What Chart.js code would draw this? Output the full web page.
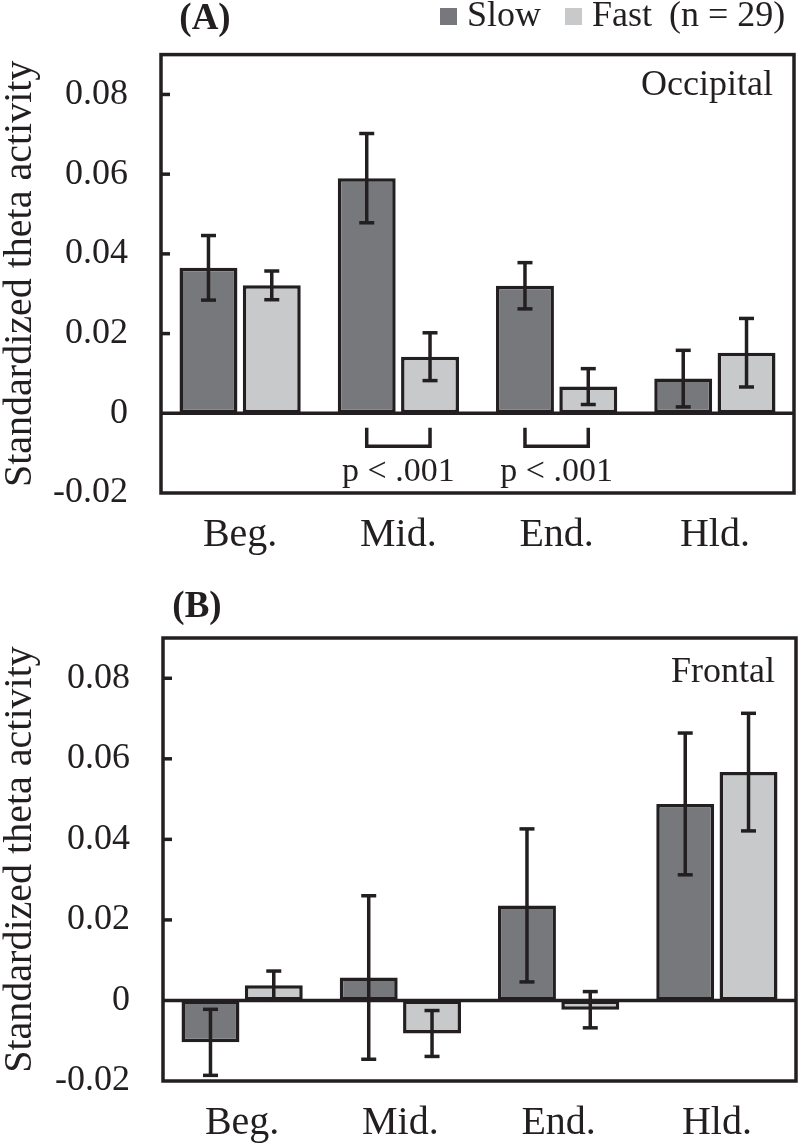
<!DOCTYPE html>
<html>
<head>
<meta charset="utf-8">
<title>Standardized theta activity</title>
<script src="https://cdn.jsdelivr.net/npm/chart.js@4.4.1/dist/chart.umd.min.js"></script>
<style>
  html, body { margin: 0; padding: 0; background: #fff; }
  canvas { display: block; }
</style>
</head>
<body>
<canvas id="chartA" width="800" height="570"></canvas>
<canvas id="chartB" width="800" height="575"></canvas>
<script>
// ---- data -------------------------------------------------------
const categories  = ['Beg.', 'Mid.', 'End.', 'Hld.'];
const seriesNames = ['Slow', 'Fast'];
const yTicks      = [-0.02, 0, 0.02, 0.04, 0.06, 0.08];

// (A) occipital
const occSlow    = [0.0365, 0.0590, 0.0320, 0.0087];
const occSlowErr = [0.0081, 0.0112, 0.0058, 0.0071];
const occFast    = [0.0321, 0.0142, 0.0067, 0.0152];
const occFastErr = [0.0036, 0.0060, 0.0045, 0.0086];
const occSigCats = ['Mid.', 'End.'];
const occSigText = ['p < .001', 'p < .001'];

// (B) frontal
const froSlow    = [-0.0104, 0.0057, 0.0236, 0.0488];
const froSlowErr = [0.0082, 0.0203, 0.0190, 0.0176];
const froFast    = [0.0038, -0.0082, -0.0023, 0.0567];
const froFastErr = [0.0035, 0.0057, 0.0045, 0.0146];

// ---- style ------------------------------------------------------
const INK   = '#231f20';
const DARK  = '#77787b';
const LIGHT = '#c8c9cb';
const SERIF = '"Liberation Serif", "Times New Roman", serif';
const LW    = 3.5;

const line = (ctx, x1, y1, x2, y2) => {
  ctx.beginPath(); ctx.moveTo(x1, y1); ctx.lineTo(x2, y2); ctx.stroke();
};

// frame, zero line, inner ticks, error bars, brackets, labels
function panelPlugin(p) {
  return {
    id: 'panel',
    afterDatasetsDraw(chart) {
      const { ctx, chartArea: a, scales: { y } } = chart;
      ctx.save();
      ctx.strokeStyle = INK;
      ctx.lineWidth = LW;

      const y0 = y.getPixelForValue(0);
      line(ctx, a.left, y0, a.right, y0);
      ctx.strokeRect(a.left, a.top, a.right - a.left, a.bottom - a.top);

      yTicks.forEach(v => {
        if (v <= y.min || v === 0) return;
        const py = y.getPixelForValue(v);
        line(ctx, a.left, py, a.left + 9, py);
      });

      // error bars
      chart.data.datasets.forEach((ds, i) => {
        chart.getDatasetMeta(i).data.forEach((bar, j) => {
          const v = ds.data[j], e = ds.errors[j];
          const t = y.getPixelForValue(v + e), b = y.getPixelForValue(v - e);
          line(ctx, bar.x, t, bar.x, b);
          line(ctx, bar.x - 7.5, t, bar.x + 7.5, t);
          line(ctx, bar.x - 7.5, b, bar.x + 7.5, b);
        });
      });

      // significance brackets
      (p.sigCats || []).forEach((cat, k) => {
        const j = categories.indexOf(cat);
        const x1 = chart.getDatasetMeta(0).data[j].x;
        const x2 = chart.getDatasetMeta(1).data[j].x;
        const yt = y.getPixelForValue(-0.0036), yb = y.getPixelForValue(-0.0083);
        ctx.beginPath();
        ctx.moveTo(x1, yt); ctx.lineTo(x1, yb); ctx.lineTo(x2, yb); ctx.lineTo(x2, yt);
        ctx.stroke();
        ctx.fillStyle = INK;
        ctx.font = '34px ' + SERIF;
        ctx.textAlign = 'center';
        ctx.textBaseline = 'alphabetic';
        ctx.fillText(p.sigText[k], (x1 + x2) / 2, y.getPixelForValue(-0.0170));
      });
      ctx.restore();
    },
    afterDraw(chart) {
      const { ctx, chartArea: a } = chart;
      ctx.save();
      ctx.fillStyle = INK;
      ctx.textBaseline = 'alphabetic';

      ctx.font = 'bold 37px ' + SERIF;
      ctx.textAlign = 'center';
      ctx.fillText(p.tag, p.tagX, p.tagY);

      ctx.font = '36px ' + SERIF;
      ctx.textAlign = 'right';
      ctx.fillText(p.region, a.right - 21, a.top + p.regionDy);

      if (p.legend) {
        ctx.textAlign = 'left';
        let lx = 440;
        chart.data.datasets.forEach(ds => {
          ctx.fillStyle = ds.backgroundColor;
          ctx.fillRect(lx, 8, 17, 17);
          ctx.fillStyle = INK;
          ctx.fillText(ds.label, lx + 27, 26);
          lx += 27 + ctx.measureText(ds.label).width + 24;
        });
        ctx.fillText('(n = 29)', lx - 7, 26);
      }
      ctx.restore();
    }
  };
}

function makeChart(id, slow, slowErr, fast, fastErr, p) {
  return new Chart(document.getElementById(id), {
    type: 'bar',
    data: {
      labels: categories,
      datasets: [
        { label: seriesNames[0], data: slow, errors: slowErr, backgroundColor: DARK },
        { label: seriesNames[1], data: fast, errors: fastErr, backgroundColor: LIGHT },
      ],
    },
    options: {
      responsive: false,
      animation: false,
      events: [],
      layout: { padding: { top: p.top, right: p.right, left: 0, bottom: 0 } },
      datasets: {
        bar: {
          borderColor: INK, borderWidth: LW, borderSkipped: false,
          categoryPercentage: 0.80, barPercentage: 0.915,
        },
      },
      plugins: { legend: { display: false }, tooltip: { enabled: false } },
      scales: {
        x: {
          grid: { display: false, drawTicks: false },
          border: { display: false },
          ticks: { color: INK, font: { family: SERIF, size: 40 }, padding: 18 },
          afterFit: s => { s.height = p.xHeight; },
        },
        y: {
          min: -0.02, max: 0.09,
          grid: { display: false, drawTicks: false },
          border: { display: false },
          afterBuildTicks: s => { s.ticks = yTicks.map(v => ({ value: v })); },
          ticks: {
            color: INK, font: { family: SERIF, size: 36 }, padding: 33,
            callback: v => v === 0 ? '0' : v.toFixed(2),
          },
          title: {
            display: true, text: 'Standardized theta activity', color: INK,
            font: { family: SERIF, size: 40, lineHeight: 1.0 }, padding: 0,
          },
          afterFit: s => { s.width = p.left; },
        },
      },
    },
    plugins: [panelPlugin(p)],
  });
}

makeChart('chartA', occSlow, occSlowErr, occFast, occFastErr, {
  top: 51, right: 6, left: 161, xHeight: 77,
  tag: '(A)', tagX: 205, tagY: 29, region: 'Occipital', regionDy: 40, legend: true,
  sigCats: occSigCats, sigText: occSigText,
});
makeChart('chartB', froSlow, froSlowErr, froFast, froFastErr, {
  top: 68, right: 4, left: 163, xHeight: 64,
  tag: '(B)', tagX: 197, tagY: 47, region: 'Frontal', regionDy: 44, legend: false,
});
</script>
</body>
</html>
